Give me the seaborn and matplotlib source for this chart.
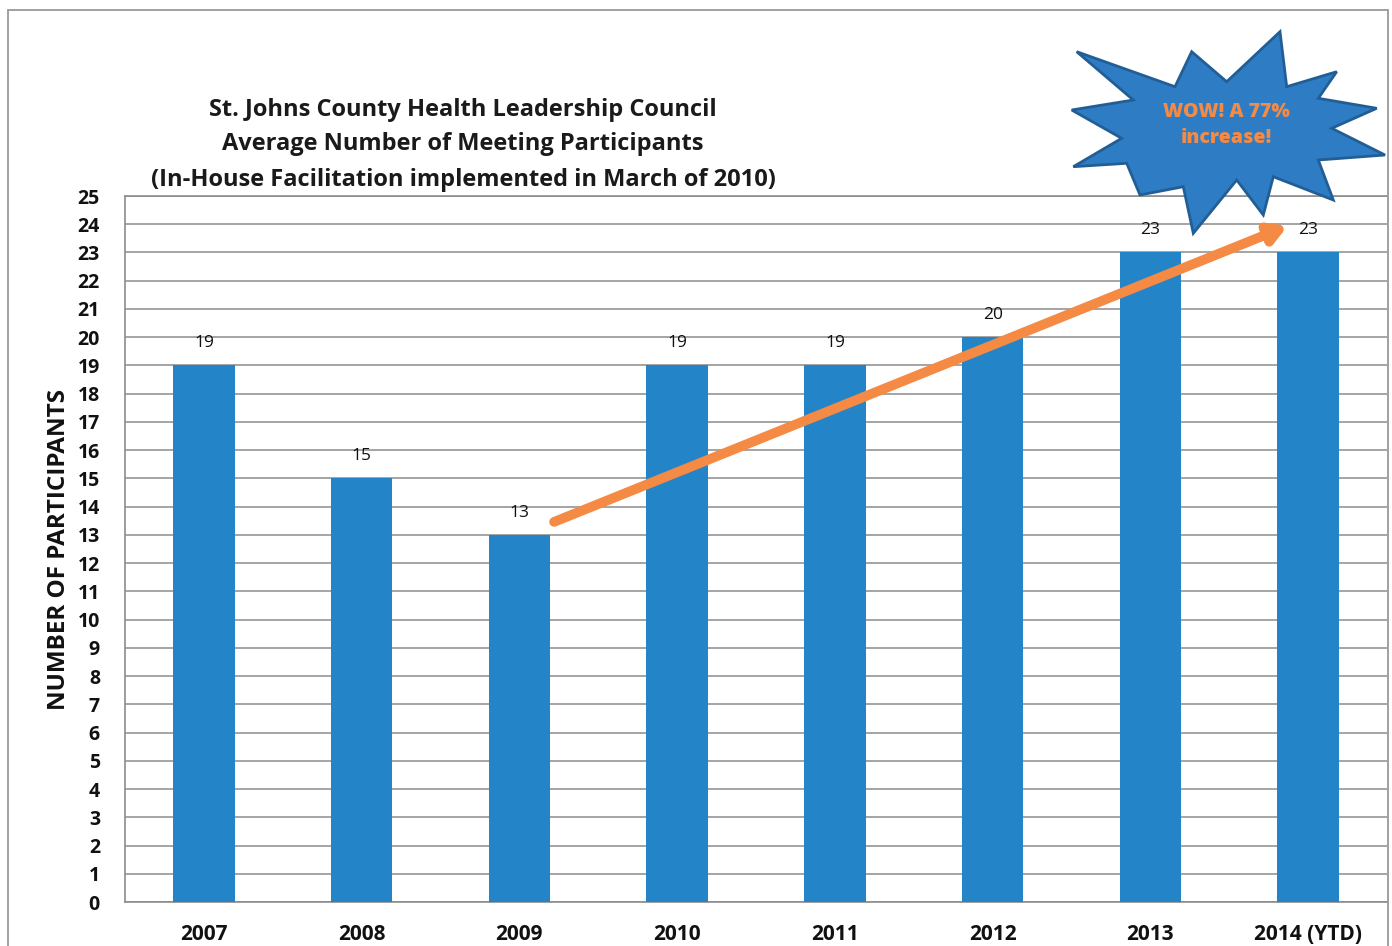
import matplotlib
matplotlib.use("Agg")
import matplotlib.pyplot as plt
import seaborn as sns
import pandas as pd
from matplotlib.patches import Polygon, FancyArrowPatch
from matplotlib.lines import Line2D

years = ["2007", "2008", "2009", "2010", "2011", "2012", "2013", "2014 (YTD)"]
participants = [19, 15, 13, 19, 19, 20, 23, 23]
title_lines = ["St. Johns County Health Leadership Council",
               "Average Number of Meeting Participants",
               "(In-House Facilitation implemented in March of 2010)"]
burst_text = "WOW! A 77%\nincrease!"

sns.set_theme(style="white")
plt.rcParams['font.family'] = ['Open Sans', 'DejaVu Sans']

W, H = 1392, 946
fig = plt.figure(figsize=(W / 100, H / 100), dpi=100)
fig.patch.set_facecolor("white")

def fx(px):
    return px / W

def fy(py):
    return 1 - py / H

ax = fig.add_axes([fx(125), fy(902), fx(1387) - fx(125), fy(196) - fy(902)])
df = pd.DataFrame({"year": years, "n": participants})
bar_color = "#2385C7"
sns.barplot(data=df, x="year", y="n", color=bar_color, width=0.39,
            saturation=1, ax=ax, zorder=3, linewidth=0)

ax.set_ylim(0, 25)
ax.set_xlim(-0.5, len(years) - 0.5)
ax.set_yticks(range(0, 26))
ax.set_yticklabels([str(i) for i in range(0, 26)], fontsize=14, fontweight="bold", color="#111111")
ax.set_xticklabels(years, fontsize=15, fontweight="bold", color="#111111")
ax.tick_params(axis="x", length=0, pad=16)
ax.tick_params(axis="y", length=0, pad=18)
for lab in ax.get_yticklabels():
    lab.set_horizontalalignment("right")
ax.grid(axis="y", color="#8c8c8c", linewidth=1.1, zorder=0)
ax.set_axisbelow(True)
for s in ["left", "bottom", "top"]:
    ax.spines[s].set_visible(True)
    ax.spines[s].set_color("#8c8c8c")
    ax.spines[s].set_linewidth(1.2)
ax.spines["right"].set_visible(False)
ax.set_xlabel("")
ax.set_ylabel("NUMBER OF PARTICIPANTS", fontsize=17.5, fontweight="bold", color="#111111", labelpad=5)

for i, v in enumerate(participants):
    ax.text(i, v + 0.5, str(v), ha="center", va="bottom", fontsize=12.5, color="#111111", zorder=5)

# Trend arrow (2009 -> 2014)
arrow = FancyArrowPatch((2.22, 13.46), (6.87, 23.94), arrowstyle="-|>,head_length=6,head_width=3.5",
                        mutation_scale=1.6, color="#F58A45", linewidth=7, zorder=6,
                        shrinkA=0, shrinkB=0)
ax.add_patch(arrow)

# Title
for k, (line, py) in enumerate(zip(title_lines, [110, 144, 180])):
    fig.text(fx(463), fy(py), line, ha="center", va="center", fontsize=17,
             fontweight="bold", color="#1a1a1a")

# Outer frame
frame_col = "#9a9a9a"
fig.add_artist(Line2D([fx(8), fx(8)], [fy(10), 0], transform=fig.transFigure, color=frame_col, lw=1.3))
fig.add_artist(Line2D([fx(8), fx(1388)], [fy(10), fy(10)], transform=fig.transFigure, color=frame_col, lw=1.3))
fig.add_artist(Line2D([fx(1388), fx(1388)], [fy(10), 0], transform=fig.transFigure, color=frame_col, lw=1.3))

# Starburst
pts = [(1076.7, 51.7), (1175, 86.7), (1191.7, 51.7), (1226.7, 81.7), (1280, 31.7),
       (1286.7, 86.7), (1336.7, 71.7), (1318.3, 98.3), (1376.7, 108.3), (1331.7, 128.3),
       (1385, 155), (1318.3, 160), (1333.3, 200), (1273.3, 176.7), (1263.3, 215),
       (1236.7, 180), (1193.3, 233.3), (1183.3, 186.7), (1140, 195), (1126.7, 163.3),
       (1073.3, 166.7), (1121.7, 138.3), (1071.7, 110), (1133.3, 100)]
poly = Polygon([(fx(x), fy(y)) for x, y in pts], closed=True, transform=fig.transFigure,
               facecolor="#2E7DC4", edgecolor="#225E96", linewidth=2, zorder=10)
fig.add_artist(poly)
fig.text(fx(1226), fy(125), burst_text, ha="center", va="center", fontsize=14,
         fontweight="heavy", color="#F58A45", linespacing=1.4, zorder=11)

fig.savefig("out.png", dpi=100, facecolor="white")
